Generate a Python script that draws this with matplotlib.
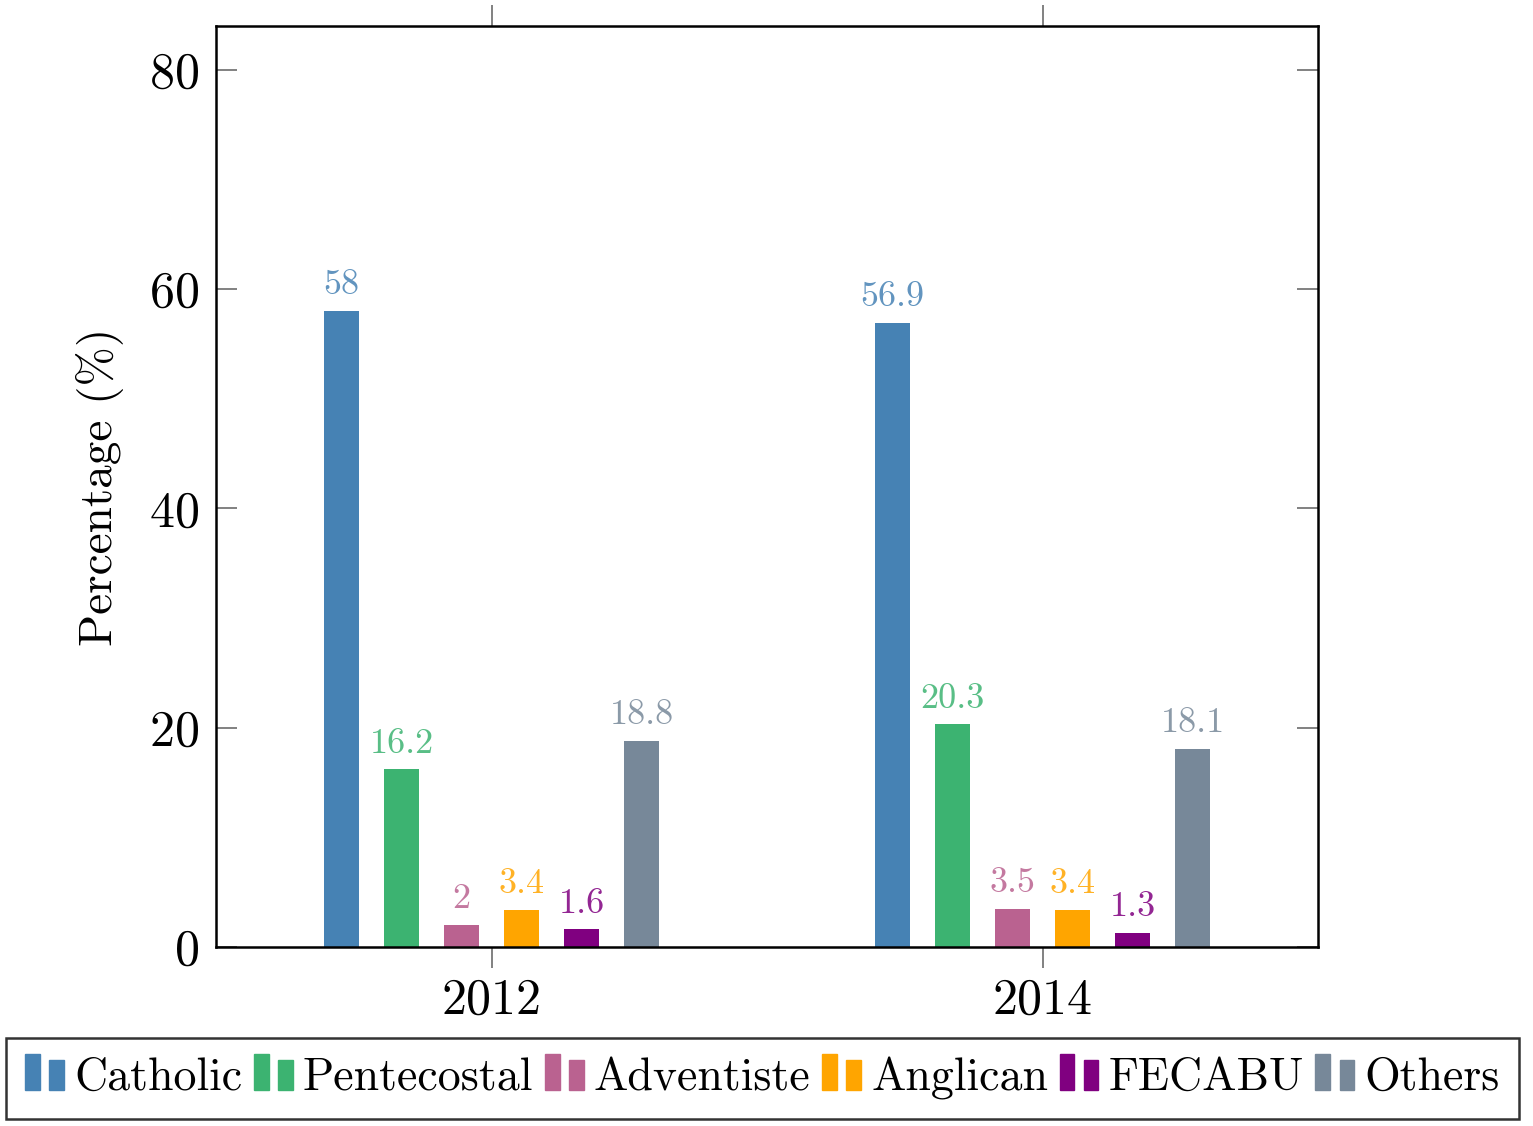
import matplotlib
matplotlib.use("Agg")
import matplotlib.pyplot as plt
from matplotlib.patches import Rectangle
from matplotlib.legend_handler import HandlerBase
import numpy as np

plt.rcParams['font.family'] = ['cmr10', 'DejaVu Serif']
plt.rcParams['axes.formatter.use_mathtext'] = True

years = ['2012', '2014']
denominations = ['Catholic', 'Pentecostal', 'Adventiste', 'Anglican', 'FECABU', 'Others']
values_2012 = [58, 16.2, 2, 3.4, 1.6, 18.8]
values_2014 = [56.9, 20.3, 3.5, 3.4, 1.3, 18.1]
colors = ['#4682B4', '#3CB371', '#BA6290', '#FFA500', '#800080', '#778899']

fig = plt.figure(figsize=(15.33, 11.26), dpi=100)
ax = fig.add_axes([216/1533, 1 - 947/1126, (1318-216)/1533, (947-26)/1126])

x = np.arange(len(years))
step = 0.1089
width = 0.062
series = np.array([values_2012, values_2014]).T
handles = []
for i, (name, col) in enumerate(zip(denominations, colors)):
    offs = (i - 2.5) * step
    b = ax.bar(x + offs, series[i], width=width, color=col, label=name, zorder=2)
    handles.append(b)
    for xi, v in zip(x, series[i]):
        ax.text(xi + offs, v + 0.9, f"{v:g}", ha='center', va='bottom',
                fontsize=26, color=col, alpha=0.85)

ax.set_xlim(-0.5, 1.5)
ax.set_ylim(0, 84)
ax.set_xticks(x)
ax.set_xticklabels(years)
ax.set_yticks([0, 20, 40, 60, 80])
ax.tick_params(axis='y', direction='in', left=True, right=True, length=15,
               width=1.3, color='#777777', labelsize=36, pad=12)
ax.tick_params(axis='x', direction='out', top=True, bottom=True, length=15,
               width=1.3, color='#777777', labelsize=36, pad=7)
for s in ax.spines.values():
    s.set_linewidth(1.8)
ax.set_ylabel('Percentage (%)', fontsize=34, labelpad=18)


class TwoBarHandler(HandlerBase):
    def __init__(self, color):
        super().__init__()
        self.color = color

    def create_artists(self, legend, orig_handle, xdescent, ydescent,
                       width, height, fontsize, trans):
        bw = width * 0.38
        h1 = height * 1.12
        r1 = Rectangle((-xdescent, -ydescent), bw, h1, color=self.color, transform=trans)
        r2 = Rectangle((-xdescent + width - bw, -ydescent), bw, h1 * 0.83,
                       color=self.color, transform=trans)
        return [r1, r2]


handler_map = {h: TwoBarHandler(c) for h, c in zip(handles, colors)}
leg = fig.legend(handles, denominations, loc='lower left',
                 bbox_to_anchor=(6/1533, 7/1126), ncol=6, fontsize=33,
                 handler_map=handler_map, handlelength=0.85, handletextpad=0.22,
                 columnspacing=0.25, borderpad=0.42, borderaxespad=0,
                 fancybox=False, frameon=True, edgecolor='black')
leg.get_frame().set_linewidth(1.8)

fig.savefig('out.png', dpi=100)
